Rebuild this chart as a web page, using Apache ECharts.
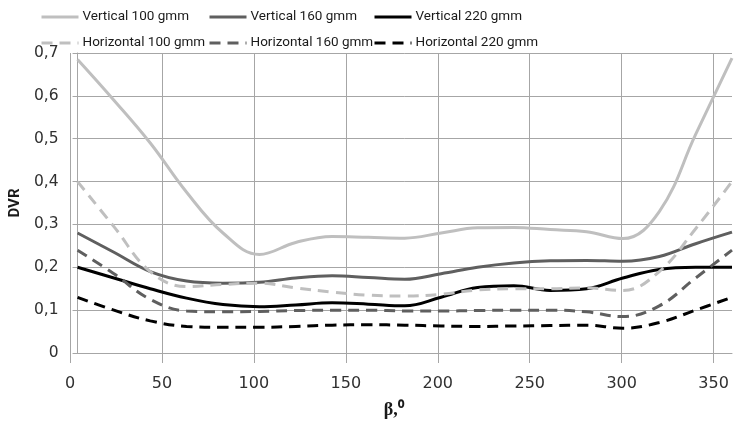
<!DOCTYPE html>
<html><head><meta charset="utf-8">
<script src="https://cdn.jsdelivr.net/npm/echarts@6/dist/echarts.min.js"></script>
<style>html,body{margin:0;padding:0;background:#fff}#c{width:747px;height:424px}</style>
</head><body><div id="c"></div>
<script>
const angles = [0,20,40,60,80,100,120,140,160,180,200,220,240,260,280,300,320,340,360];
const vertical100   = [0.685,0.59,0.49,0.375,0.28,0.23,0.258,0.272,0.27,0.268,0.28,0.292,0.293,0.288,0.283,0.267,0.33,0.51,0.688];
const horizontal100 = [0.40,0.295,0.19,0.155,0.16,0.163,0.152,0.142,0.135,0.133,0.137,0.147,0.15,0.15,0.152,0.146,0.19,0.29,0.40];
const vertical160   = [0.28,0.235,0.19,0.168,0.163,0.165,0.175,0.18,0.176,0.172,0.185,0.2,0.21,0.215,0.216,0.214,0.225,0.255,0.282];
const horizontal160 = [0.24,0.185,0.125,0.098,0.096,0.097,0.099,0.1,0.1,0.098,0.098,0.099,0.1,0.1,0.096,0.085,0.11,0.175,0.24];
const vertical220   = [0.20,0.175,0.15,0.128,0.113,0.108,0.112,0.117,0.114,0.11,0.13,0.153,0.157,0.146,0.15,0.175,0.195,0.2,0.2];
const horizontal220 = [0.13,0.1,0.075,0.062,0.06,0.06,0.062,0.065,0.066,0.065,0.063,0.062,0.063,0.064,0.065,0.058,0.071,0.1,0.13];
const seriesNames = ['Vertical 100 gmm','Vertical 160 gmm','Vertical 220 gmm','Horizontal 100 gmm','Horizontal 160 gmm','Horizontal 220 gmm'];
const xTicks = {min:0, max:360, interval:50, lastLabel:350};
const yTicks = {min:0, max:0.7, interval:0.1};

const LIGHT='#bfbfbf', MID='#5f5f5f', DARK='#000000';
function pairs(vals){ return angles.map((a,i)=>[a, vals[i]]); }
function mk(name, vals, color, dashed){
  return {name, type:'line', xAxisIndex:0, yAxisIndex:0, data:pairs(vals), smooth:0.4, symbol:'none',
    lineStyle:{color, width:3, type: dashed ? [11,7] : 'solid', cap:'butt'}, itemStyle:{color}};
}
const legendFont='Roboto';
const tickFont='DejaVu Sans';
const legendBase = {orient:'vertical', top:5, itemWidth:37, itemHeight:14, itemGap:12,
  itemStyle:{opacity:0}, lineStyle:{width:3},
  textStyle:{fontFamily:legendFont, fontSize:13.5, color:'#1a1a1a', padding:[0,0,0,-1]}};
const option = {
  animation:false,
  legend:[
    Object.assign({}, legendBase, {left:35, data:[seriesNames[0], seriesNames[3]]}),
    Object.assign({}, legendBase, {left:203, data:[seriesNames[1], seriesNames[4]]}),
    Object.assign({}, legendBase, {left:368, data:[seriesNames[2], seriesNames[5]]})
  ],
  grid:[
    {left:70, right:15, top:53, bottom:66},
    {left:70, width:662*xTicks.lastLabel/xTicks.max, top:53, bottom:66}
  ],
  xAxis:[
    {type:'value', gridIndex:0, min:xTicks.min, max:xTicks.max, interval:xTicks.interval,
     axisLine:{show:true, lineStyle:{color:'#a6a6a6', width:1}}, axisTick:{show:false},
     axisLabel:{show:false}, splitLine:{show:false},
     name:'β,⁰', nameLocation:'middle', nameGap:48,
     nameTextStyle:{fontFamily:'Liberation Serif', fontWeight:'bold', fontSize:18, color:'#1a1a1a', padding:[0,22,0,0]}},
    {type:'value', gridIndex:1, min:xTicks.min, max:xTicks.lastLabel, interval:xTicks.interval,
     axisLine:{show:false}, axisTick:{show:true, length:5, lineStyle:{color:'#a6a6a6'}},
     axisLabel:{fontFamily:tickFont, fontSize:16, color:'#303030', margin:18},
     splitLine:{show:true, lineStyle:{color:'#a6a6a6', width:1}}}
  ],
  yAxis:[
    {type:'value', gridIndex:0, min:yTicks.min, max:yTicks.max, interval:yTicks.interval,
     axisLine:{show:true, lineStyle:{color:'#a6a6a6'}}, axisTick:{show:true, length:5, lineStyle:{color:'#a6a6a6'}},
     axisLabel:{fontFamily:tickFont, fontSize:15.5, color:'#303030', margin:19,
       formatter:v=> v===0 ? '0' : v.toFixed(1).replace('.',',')},
     splitLine:{show:true, lineStyle:{color:'#a6a6a6', width:1}},
     name:'DVR', nameLocation:'middle', nameGap:49, nameRotate:90,
     nameTextStyle:{fontFamily:legendFont, fontWeight:'bold', fontSize:15, color:'#1a1a1a'}},
    {type:'value', gridIndex:1, min:yTicks.min, max:yTicks.max, show:false, splitLine:{show:false}}
  ],
  series:[
    mk(seriesNames[0], vertical100, LIGHT, false),
    mk(seriesNames[1], vertical160, MID, false),
    mk(seriesNames[2], vertical220, DARK, false),
    mk(seriesNames[3], horizontal100, LIGHT, true),
    mk(seriesNames[4], horizontal160, MID, true),
    mk(seriesNames[5], horizontal220, DARK, true)
  ]
};
echarts.init(document.getElementById('c'), null, {renderer:'canvas'}).setOption(option);
</script></body></html>
